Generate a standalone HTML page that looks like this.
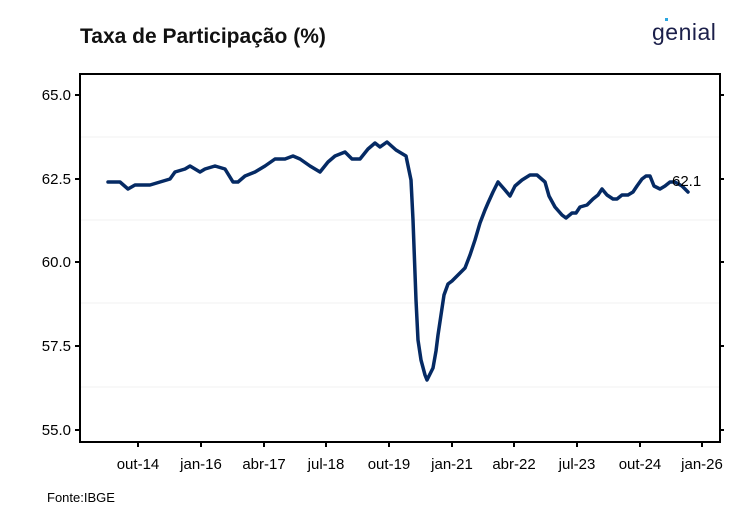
<!DOCTYPE html>
<html><head><meta charset="utf-8"><style>
body{margin:0;background:#fff;width:744px;height:531px;overflow:hidden}
svg{display:block;font-family:"Liberation Sans",Arial,sans-serif}
</style></head><body>
<svg width="744" height="531" viewBox="0 0 744 531">
<rect width="744" height="531" fill="#fff"/>
<text x="80" y="43" font-size="21" font-weight="bold" fill="#111">Taxa de Participação (%)</text>
<text x="652" y="40" font-size="23" fill="#1b1f4a" letter-spacing="0.5">genial</text>
<rect x="665" y="18" width="3" height="3" fill="#2aa6e0"/>
<g stroke="#f2f2f2" stroke-width="1">
<line x1="80" x2="720" y1="137" y2="137"/><line x1="80" x2="720" y1="220" y2="220"/>
<line x1="80" x2="720" y1="303" y2="303"/><line x1="80" x2="720" y1="387" y2="387"/>
</g>
<rect x="80" y="74" width="640" height="368" fill="none" stroke="#000" stroke-width="2"/>
<g stroke="#000" stroke-width="2">
<line x1="75" x2="80" y1="95" y2="95"/><line x1="75" x2="80" y1="179" y2="179"/>
<line x1="75" x2="80" y1="262" y2="262"/><line x1="75" x2="80" y1="346" y2="346"/>
<line x1="75" x2="80" y1="430" y2="430"/>
<line x1="720" x2="724" y1="95" y2="95"/><line x1="720" x2="724" y1="179" y2="179"/>
<line x1="720" x2="724" y1="262" y2="262"/><line x1="720" x2="724" y1="346" y2="346"/>
<line x1="720" x2="724" y1="430" y2="430"/>
<line x1="138" x2="138" y1="442" y2="447"/><line x1="201" x2="201" y1="442" y2="447"/>
<line x1="264" x2="264" y1="442" y2="447"/><line x1="326" x2="326" y1="442" y2="447"/>
<line x1="389" x2="389" y1="442" y2="447"/><line x1="452" x2="452" y1="442" y2="447"/>
<line x1="514" x2="514" y1="442" y2="447"/><line x1="577" x2="577" y1="442" y2="447"/>
<line x1="640" x2="640" y1="442" y2="447"/><line x1="702" x2="702" y1="442" y2="447"/>
</g>
<g font-size="15" fill="#000" text-anchor="end">
<text x="71" y="100">65.0</text><text x="71" y="184">62.5</text><text x="71" y="267">60.0</text>
<text x="71" y="351">57.5</text><text x="71" y="435">55.0</text>
</g>
<g font-size="15" fill="#000" text-anchor="middle">
<text x="138" y="469">out-14</text><text x="201" y="469">jan-16</text><text x="264" y="469">abr-17</text>
<text x="326" y="469">jul-18</text><text x="389" y="469">out-19</text><text x="452" y="469">jan-21</text>
<text x="514" y="469">abr-22</text><text x="577" y="469">jul-23</text><text x="640" y="469">out-24</text>
<text x="702" y="469">jan-26</text>
</g>
<text x="47" y="502" font-size="13" fill="#000">Fonte:IBGE</text>
<polyline fill="none" stroke="#052a64" stroke-width="3.5" stroke-linejoin="round" stroke-linecap="round" points="
108,182 120,182 128,189 135,185 150,185 160,182 170,179 175,172 185,169 190,166 200,172 205,169 215,166 225,169 233,182 238,182 245,176 255,172 265,166 275,159 285,159 293,156 300,159 310,166 320,172 328,162 335,156 345,152 352,159 360,159 368,149 375,143 380,147 387,142 396,150 406,156 411,180 413,220 416,300 418,340 421,360 425,375 427,380 433,368 436,351 438,335 441,315 444,295 448,284 452,281 465,268 470,255 475,240 480,223 485,210 488,203 493,192 498,182 505,190 510,196 515,186 522,180 530,175 537,175 545,182 549,196 555,207 562,215 566,218 572,213 576,213 580,207 587,205 593,199 598,195 602,189 607,195 613,199 617,199 622,195 628,195 633,192 637,186 642,179 646,176 650,176 654,186 660,189 665,186 670,182 675,182 682,186 688,192"/>
<text x="672" y="186" font-size="15" fill="#000">62.1</text>
</svg>
</body></html>
